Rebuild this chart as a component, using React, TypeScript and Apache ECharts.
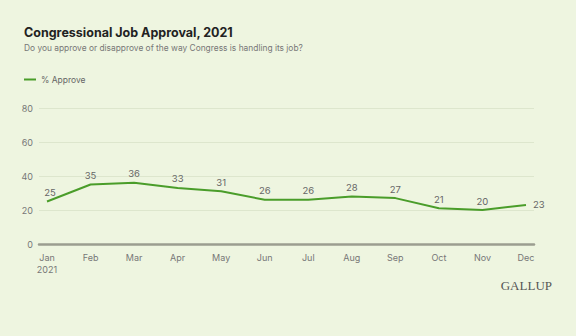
import React, { useEffect, useRef } from "react";
import * as echarts from "echarts";

const months = ["Jan", "Feb", "Mar", "Apr", "May", "Jun", "Jul", "Aug", "Sep", "Oct", "Nov", "Dec"];
const approve = [25, 35, 36, 33, 31, 26, 26, 28, 27, 21, 20, 23];
const yTicks = [0, 20, 40, 60, 80];

export default function App() {
  const ref = useRef<HTMLDivElement>(null);
  useEffect(() => {
    if (!ref.current) return;
    const chart = echarts.init(ref.current, null, { renderer: "svg" });
    const font = "Inter, 'Noto Sans', sans-serif";
    chart.setOption({
      animation: false,
      backgroundColor: "#eef5e0",
      textStyle: { fontFamily: font },
      title: {
        text: "Congressional Job Approval, 2021",
        subtext: "Do you approve or disapprove of the way Congress is handling its job?",
        left: 19,
        top: 21,
        itemGap: 5,
        textStyle: { fontSize: 12.5, fontWeight: "bold", color: "#222", fontFamily: font },
        subtextStyle: { fontSize: 8.4, color: "#777", fontFamily: font },
      },
      legend: {
        left: 19,
        top: 70,
        icon: "rect",
        itemWidth: 12,
        itemHeight: 2,
        itemGap: 5,
        textStyle: { fontSize: 8.5, color: "#666", fontFamily: font },
        data: ["% Approve"],
      },
      grid: { left: 39, right: 42, top: 108, bottom: 92 },
      xAxis: {
        type: "value",
        min: -0.184,
        max: 11.184,
        splitLine: { show: false },
        axisTick: { show: false },
        axisLine: { show: true, lineStyle: { color: "#9b9d90", width: 2.5 } },
        axisLabel: {
          customValues: months.map((_, i) => i),
          formatter: (v: number) => {
            const i = Math.round(v);
            return i === 0 ? months[0] + "\n2021" : months[i];
          },
          color: "#777",
          fontSize: 9,
          margin: 7,
          lineHeight: 12,
          fontFamily: font,
        },
      },
      yAxis: {
        type: "value",
        min: yTicks[0],
        max: yTicks[yTicks.length - 1],
        interval: 20,
        axisLine: { show: false },
        axisTick: { show: false },
        splitLine: { lineStyle: { color: "#dde6cd", width: 1 } },
        axisLabel: { color: "#777", fontSize: 9, margin: 6, fontFamily: font },
      },
      series: [
        {
          name: "% Approve",
          type: "line",
          data: approve.map((v, i) => [i, v]),
          symbol: "circle",
          symbolSize: 0,
          showSymbol: true,
          color: "#4a9d2a",
          lineStyle: { width: 2, color: "#4a9d2a" },
          label: {
            show: true,
            position: "top",
            distance: 4,
            color: "#666",
            fontSize: 9.5,
            fontFamily: font,
            formatter: (p: any) => String(p.value[1]),
          },
          labelLayout: (p: any) => {
            if (p.dataIndex === approve.length - 1) {
              const r = p.labelRect;
              return { x: r.x + r.width / 2 + 7, y: r.y + 9 };
            }
            if (p.dataIndex === 0) {
              const r = p.labelRect;
              return { x: r.x + 3, y: r.y };
            }
            return {};
          },
        },
      ],
      graphic: [
        {
          type: "text",
          right: 24,
          top: 279,
          style: {
            text: "GALLUP",
            font: "13px 'Liberation Serif', 'DejaVu Serif', serif",
            fill: "#555",
          },
        },
      ],
    });
    return () => chart.dispose();
  }, []);
  return <div ref={ref} style={{ width: 576, height: 336, position: "absolute", left: 0, top: 0 }} />;
}
